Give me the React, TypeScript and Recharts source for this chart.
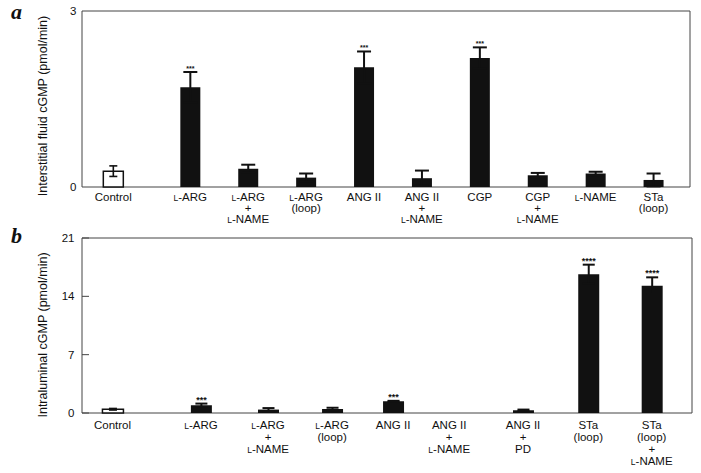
import React from 'react';
import { ComposedChart, Bar, XAxis, YAxis, ErrorBar, Cell, LabelList, ReferenceArea } from 'recharts';

// Panel a
const labelsA: string[][] = [
  ['Control'], ['L-ARG'], ['L-ARG', '+', 'L-NAME'], ['L-ARG', '(loop)'], ['ANG II'],
  ['ANG II', '+', 'L-NAME'], ['CGP'], ['CGP', '+', 'L-NAME'], ['L-NAME'], ['STa', '(loop)'],
];
const posA = [0, 1.33, 2.33, 3.33, 4.33, 5.33, 6.33, 7.33, 8.33, 9.33];
const meanA = [0.27, 1.70, 0.31, 0.16, 2.04, 0.15, 2.20, 0.20, 0.23, 0.12];
const errA = [0.09, 0.26, 0.07, 0.07, 0.27, 0.13, 0.18, 0.04, 0.03, 0.11];
const sigA = ['', '***', '', '', '***', '', '***', '', '', ''];
const ticksYA = [0, 3];

// Panel b
const labelsB: string[][] = [
  ['Control'], ['L-ARG'], ['L-ARG', '+', 'L-NAME'], ['L-ARG', '(loop)'], ['ANG II'],
  ['ANG II', '+', 'L-NAME'], ['ANG II', '+', 'PD'], ['STa', '(loop)'], ['STa', '(loop)', '+', 'L-NAME'],
];
const posB = [0, 1.45, 2.55, 3.6, 4.6, 5.52, 6.73, 7.8, 8.84];
const meanB = [0.45, 0.93, 0.41, 0.48, 1.41, 0.0, 0.33, 16.65, 15.28];
const errB = [0.1, 0.2, 0.18, 0.15, 0.05, 0.4, 0.08, 1.15, 1.0];
const sigB = ['', '***', '', '', '***', '', '', '****', '****'];
const ticksYB = [0, 7, 14, 21];

const FONT = '"Liberation Sans", Arial, Helvetica, sans-serif';
const INK = '#111';

function rows(pos: number[], mean: number[], err: number[]) {
  return pos.map((p, i) => ({
    idx: i,
    pos: p,
    mean: mean[i],
    errC: i === 0 ? err[i] : null,
    errT: i === 0 ? null : [Math.min(mean[i], err[i]), err[i]],
  }));
}

function renderLine(l: string) {
  if (l.startsWith('L-')) {
    return [<tspan key="s" fontSize={8.5}>L</tspan>, <tspan key="r">{l.slice(1)}</tspan>];
  }
  return l;
}

function makeTick(lines: string[][], pos: number[], first: number, step: number) {
  return (props: any) => {
    const { x, y, payload } = props;
    let i = props.index;
    if (i == null || lines[i] == null) i = pos.indexOf(payload.value);
    const ls = lines[i] || [];
    return (
      <g>
        {ls.map((l, k) => (
          <text key={k} x={x} y={y + first + k * step} textAnchor="middle" fontSize={11.5} fontFamily={FONT} fill={INK}>
            {renderLine(l)}
          </text>
        ))}
      </g>
    );
  };
}

function makeStars(sig: string[], mean: number[], err: number[], fs: number) {
  return (props: any) => {
    const vb = props.viewBox || props;
    const i = props.value;
    if (i == null) return null;
    const s = sig[i];
    if (!s) return null;
    const h = Math.abs(vb.height);
    const top = Math.min(vb.y, vb.y + vb.height);
    const ppu = h / mean[i];
    const ey = top - err[i] * ppu;
    return (
      <text x={vb.x + vb.width / 2} y={ey - 1} textAnchor="middle" fontSize={fs} fontWeight="bold" fontFamily={FONT} fill={INK}>
        {s}
      </text>
    );
  };
}

const dataA = rows(posA, meanA, errA);
const dataB = rows(posB, meanB, errB);

export default function App() {
  return (
    <div style={{ position: 'absolute', left: 0, top: 0, width: 701, height: 473, background: '#fff' }}>
      <div style={{ position: 'absolute', left: 0, top: 0 }}>
        <ComposedChart width={701} height={230} data={dataA} margin={{ top: 11, right: 11, left: 0, bottom: 0 }}>
          <XAxis
            dataKey="pos"
            type="number"
            domain={[-0.54, 9.96]}
            ticks={posA}
            interval={0}
            height={43}
            axisLine={false}
            tickLine={false}
            tickSize={0}
            tickMargin={0}
            tick={makeTick(labelsA, posA, 14, 11)}
          />
          <YAxis
            type="number"
            domain={[0, 3]}
            ticks={ticksYA}
            width={82}
            axisLine={false}
            tickLine={false}
            tickSize={0}
            tickMargin={5.5}
            tick={{ fontSize: 11.5, fontFamily: FONT, fill: INK }}
          />
          <ReferenceArea x1={-0.54} x2={9.96} y1={0} y2={3} fill="none" stroke="#444" strokeWidth={1} ifOverflow="visible" />
          <Bar dataKey="mean" barSize={20} isAnimationActive={false}>
            {dataA.map((d) => (
              <Cell key={d.idx} fill={d.idx === 0 ? '#fff' : INK} stroke={INK} strokeWidth={d.idx === 0 ? 1.5 : 0} />
            ))}
            <ErrorBar dataKey="errC" width={4} stroke={INK} strokeWidth={1.6} isAnimationActive={false} />
            <ErrorBar dataKey="errT" width={7} stroke={INK} strokeWidth={2} isAnimationActive={false} />
            <LabelList dataKey="idx" content={makeStars(sigA, meanA, errA, 7)} />
          </Bar>
        </ComposedChart>
      </div>
      <div style={{ position: 'absolute', left: 0, top: 230 }}>
        <ComposedChart width={701} height={243} data={dataB} margin={{ top: 8, right: 9, left: 0, bottom: 0 }}>
          <XAxis
            dataKey="pos"
            type="number"
            domain={[-0.5, 9.5]}
            ticks={posB}
            interval={0}
            height={60}
            axisLine={false}
            tickLine={false}
            tickSize={0}
            tickMargin={0}
            tick={makeTick(labelsB, posB, 15.5, 12)}
          />
          <YAxis
            type="number"
            domain={[0, 21]}
            ticks={ticksYB}
            width={82}
            axisLine={false}
            tickLine={{ stroke: '#444' }}
            tickSize={-7}
            tickMargin={14.5}
            tick={{ fontSize: 11.5, fontFamily: FONT, fill: INK }}
          />
          <ReferenceArea x1={-0.5} x2={9.5} y1={0} y2={21} fill="none" stroke="#444" strokeWidth={1} ifOverflow="visible" />
          <Bar dataKey="mean" barSize={21} isAnimationActive={false}>
            {dataB.map((d) => (
              <Cell key={d.idx} fill={d.idx === 0 ? '#fff' : INK} stroke={INK} strokeWidth={d.idx === 0 ? 1.5 : 0} />
            ))}
            <ErrorBar dataKey="errC" width={4} stroke={INK} strokeWidth={1.5} isAnimationActive={false} />
            <ErrorBar dataKey="errT" width={6} stroke={INK} strokeWidth={2} isAnimationActive={false} />
            <LabelList dataKey="idx" content={makeStars(sigB, meanB, errB, 9)} />
          </Bar>
        </ComposedChart>
      </div>
      <svg width={701} height={473} style={{ position: 'absolute', left: 0, top: 0, pointerEvents: 'none' }}>
        <text x={11} y={19} fontSize={22} fontWeight="bold" fontStyle="italic" fontFamily='"Liberation Serif", "DejaVu Serif", serif' fill={INK}>a</text>
        <text x={11} y={243} fontSize={22} fontWeight="bold" fontStyle="italic" fontFamily='"Liberation Serif", "DejaVu Serif", serif' fill={INK}>b</text>
        <text x={43} y={106} transform="rotate(-90 43 106)" textAnchor="middle" dominantBaseline="central" fontSize={12.5} fontFamily={FONT} fill={INK}>
          Interstitial fluid cGMP (pmol/min)
        </text>
        <text x={43} y={335} transform="rotate(-90 43 335)" textAnchor="middle" dominantBaseline="central" fontSize={12.5} fontFamily={FONT} fill={INK}>
          Intraluminal cGMP (pmol/min)
        </text>
      </svg>
    </div>
  );
}
